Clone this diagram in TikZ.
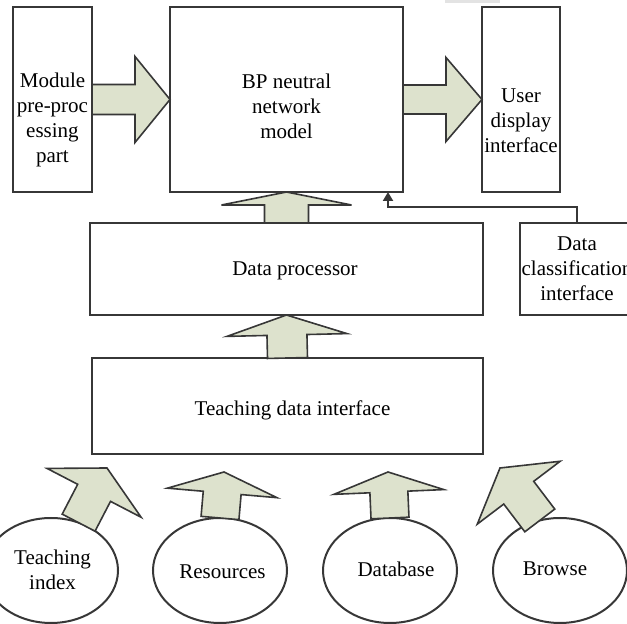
\documentclass[tikz,border=0pt]{standalone}
\usepackage{fontspec}
\setmainfont{Liberation Serif}
\usetikzlibrary{shapes.geometric,fit,calc,arrows.meta}
\definecolor{edgecol}{RGB}{55,55,55}
\definecolor{arrowfill}{RGB}{221,226,205}
\tikzset{
  box/.style={draw=edgecol, line width=1pt, inner sep=0pt, outer sep=0pt},
  txt/.style={align=center, inner sep=0pt, font=\fontsize{10.5}{12.5}\selectfont},
  oval/.style={ellipse, draw=edgecol, line width=1pt, minimum width=67pt, minimum height=52.5pt, inner sep=0pt, outer sep=0pt},
  barrow/.style={fill=arrowfill, draw=edgecol, line width=0.8pt, line join=miter},
  conn/.style={draw=edgecol, line width=1pt, -{Triangle[length=4.5pt,width=5pt]}}
}
% #1 base, #2 tip, #3 shaft half-width, #4 head half-width, #5 head length
\newcommand{\blockarrow}[5]{%
  \coordinate (ba-h) at ($(#2)!#5!(#1)$);
  \filldraw[barrow] ($(#1)!#3!90:(#2)$) -- ($(ba-h)!#3!-90:(#1)$) -- ($(ba-h)!#4!-90:(#1)$) -- (#2) -- ($(ba-h)!#4!90:(#1)$) -- ($(ba-h)!#3!90:(#1)$) -- ($(#1)!#3!-90:(#2)$) -- cycle;
}
\begin{document}
\begin{tikzpicture}[x=0.5pt,y=-0.5pt]
\useasboundingbox (0,0) rectangle (627,624);
\fill[gray!22] (445,0) rectangle (500,3);

% boxes
\node[box, fit={(13,7) (92,192)}] (mod) {};
\node[box, fit={(170,7) (403,192)}] (bp) {};
\node[box, fit={(482,7) (560,192)}] (user) {};
\node[box, fit={(90,223) (483,315)}] (dp) {};
\node[box, fit={(520,223) (634,315)}] (dc) {};
\node[box, fit={(92,358) (483,454)}] (tdi) {};

% box texts
\node[txt] (modt) at (52.5,120) {Module\\pre-proc\\essing\\part};
\node[txt] (bpt) at (286.5,106) {BP neutral\\network\\model};
\node[txt] (usert) at (521,121) {User\\display\\interface};
\node[txt] (dpt) at (295,271) {Data processor};
\node[txt] (dct) at (577,269) {Data\\classification\\interface};
\node[txt] (tdit) at (292.5,410) {Teaching data interface};

% ovals
\node[oval] (ti) at (51,570.5) {};
\node[oval] (res) at (220,570.5) {};
\node[oval] (db) at (390,570.5) {};
\node[oval] (br) at (560,570.5) {};
\node[txt] (tit) at (52.5,570) {Teaching\\index};
\node[txt] (rest) at (222.5,572) {Resources};
\node[txt] (dbt) at (396,569) {Database};
\node[txt] (brt) at (555,569) {Browse};

% tips of the lower arrows
\coordinate (t1) at (107,468);
\coordinate (t2) at (224,472);
\coordinate (t3) at (388,472);
\coordinate (t4) at (500,468);

% block arrows
\blockarrow{mod.east}{bp.west}{7.5pt}{21.5pt}{17.5pt}
\blockarrow{bp.east}{user.west}{7.25pt}{21pt}{18pt}
\blockarrow{dp.north}{bp.south}{11pt}{32.5pt}{6.5pt}
\blockarrow{tdi.north}{dp.south}{10pt}{30pt}{10pt}
\blockarrow{ti.60}{t1}{9.25pt}{26.5pt}{14pt}
\blockarrow{res.north}{t2}{9.5pt}{27.5pt}{10.5pt}
\blockarrow{db.north}{t3}{9.5pt}{27.5pt}{10pt}
\blockarrow{br.112}{t4}{9.4pt}{26pt}{15.5pt}

% connector from data classification interface
\coordinate (bend) at (388,207);
\draw[conn] (dc.north) |- (bend) -- (bend |- bp.south);
\end{tikzpicture}
\end{document}
